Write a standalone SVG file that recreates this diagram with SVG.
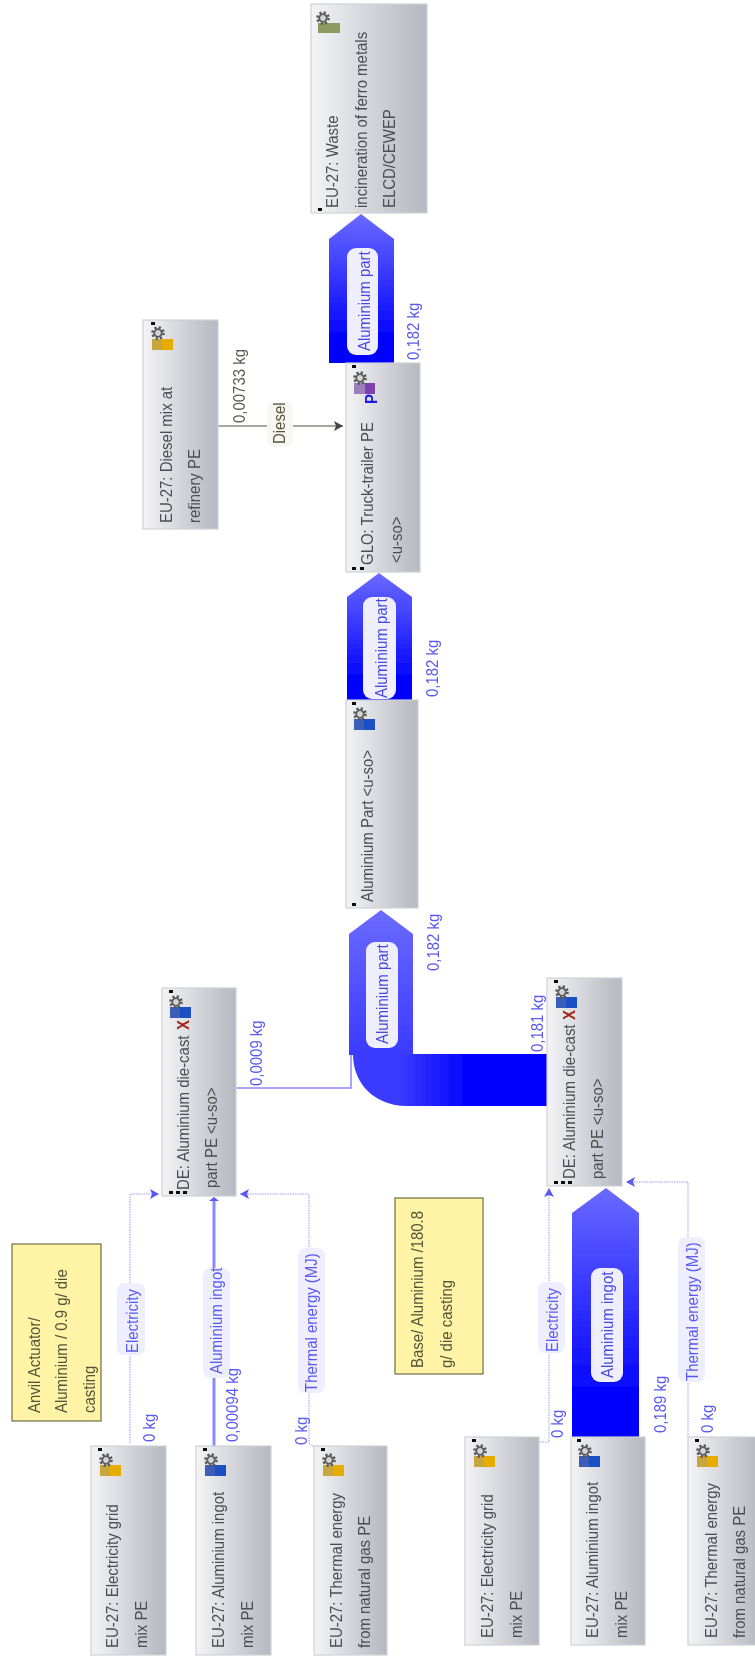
<svg xmlns="http://www.w3.org/2000/svg" width="755" height="1661" viewBox="0 0 755 1661">
<style>
svg>g{filter:url(#soft)}
text{font-family:"Liberation Sans",Arial,sans-serif;font-size:17px}
.t{fill:#4a4f52}
.f{fill:#5a5af0}
.fd{fill:#5c5c50}
.y{fill:#55553a}
.pt{fill:#4a4ae0}
.node{fill:url(#ng);stroke:#cfd1d5;stroke-width:1.2}
.note{fill:#fff3a6;stroke:#6e6e46;stroke-width:1.2}
.pill{fill:#eeeeff}
.d{fill:none;stroke:#9a9aff;stroke-width:1;stroke-dasharray:1.5 1}
.s{fill:none;stroke:#8a8aff;stroke-width:3}
.dot{fill:#111}
.x{fill:#a2261c;font-weight:bold;font-size:17px}
</style>
<defs>
<filter id="soft" x="-2%" y="-2%" width="104%" height="104%"><feGaussianBlur stdDeviation="0.45"/></filter>
<linearGradient id="ng" x1="0" x2="1" y1="0" y2="0"><stop offset="0" stop-color="#f4f4f6"/><stop offset=".85" stop-color="#bdc0c7"/><stop offset="1" stop-color="#b6b9c1"/></linearGradient>
<linearGradient id="fv" x1="0" x2="0" y1="0" y2="1"><stop offset="0" stop-color="#6a6aff"/><stop offset=".85" stop-color="#0000ff"/><stop offset="1" stop-color="#0000ff"/></linearGradient>
<linearGradient id="fv2" x1="0" x2="0" y1="0" y2="1"><stop offset="0" stop-color="#6a6aff"/><stop offset="1" stop-color="#3a3aff"/></linearGradient>
<linearGradient id="fh" gradientUnits="userSpaceOnUse" x1="400" x2="470" y1="0" y2="0"><stop offset="0" stop-color="#3a3aff"/><stop offset="1" stop-color="#0000ff"/></linearGradient>
<marker id="ab" markerUnits="userSpaceOnUse" markerWidth="12" markerHeight="12" refX="9" refY="5" orient="auto"><path d="M0 0L9 5L0 10L2 5Z" fill="#5a5af0"/></marker>
<marker id="ag" markerUnits="userSpaceOnUse" markerWidth="12" markerHeight="12" refX="9" refY="5" orient="auto"><path d="M0 0L9 5L0 10L2 5Z" fill="#444"/></marker>
<g id="gear"><circle r="5.6" fill="none" stroke="#555" stroke-width="2.4" stroke-dasharray="2.2 2.2"/><circle r="3.8" fill="#d4d4d4" stroke="#5a5a5a" stroke-width="1.8"/></g>
<g id="iy"><rect x="0" y="0" width="21" height="11" fill="#e6ad05"/><rect x="0" y="0" width="10" height="11" fill="#c9a53c"/></g>
<g id="ib"><rect x="0" y="0" width="21" height="11" fill="#1f50c4"/><rect x="0" y="0" width="10" height="11" fill="#3a5fb8"/></g>
</defs>

<g id="connectors">
<path class="d" d="M130 1443V1194H159" marker-end="url(#ab)"/>
<path class="s" d="M214 1446V1200"/>
<path d="M209 1201L214 1197L219 1201Z" fill="#5a5af0"/>
<path class="d" d="M314 1446Q309 1446 309 1441V1194H240" marker-end="url(#ab)"/>
<path class="d" d="M540 1442H549V1188" marker-end="url(#ab)"/>
<path class="d" d="M688 1437V1182H626" marker-end="url(#ab)"/>
<path d="M218 426H343" fill="none" stroke="#8a8a86" stroke-width="1.5" marker-end="url(#ag)"/>
<path d="M236 1088H351V1054" fill="none" stroke="#8a8aff" stroke-width="1.5"/>
<path id="flow-truck-waste" fill="url(#fv)" d="M329 363V239L361 214L394 239V363Z"/>
<path id="flow-part-truck" fill="url(#fv)" d="M347 700V597L379 573L412 597V700Z"/>
<path id="flow-base-part-band" fill="url(#fh)" d="M353 1054H547V1106H407C376 1106 353 1085 353 1054Z"/>
<path id="flow-base-part-stem" fill="url(#fv2)" d="M349 1055V934L381 910L413 934V1055Z"/>
<path id="flow-ingot-base" fill="url(#fv)" d="M572 1437V1213L606 1188L639 1213V1437Z"/>

<rect class="pill" x="347" y="248" width="31" height="107" rx="9"/>
<text class="pt" transform="translate(370,351) rotate(-90) scale(.88,1)">Aluminium part</text>
<rect class="pill" x="363" y="597" width="33" height="102" rx="9"/>
<text class="pt" transform="translate(387,698) rotate(-90) scale(.88,1)">Aluminium part</text>
<rect class="pill" x="366" y="942" width="32" height="106" rx="9"/>
<text class="pt" transform="translate(388,1044) rotate(-90) scale(.88,1)">Aluminium part</text>
<rect class="pill" x="591" y="1268" width="32" height="114" rx="9"/>
<text class="pt" transform="translate(613,1378) rotate(-90) scale(.88,1)">Aluminium ingot</text>

<rect x="267" y="402" width="26" height="45" rx="7" fill="#f6f6f2"/>
<text class="y" transform="translate(285,444) rotate(-90) scale(.88,1)">Diesel</text>
<rect class="pill" x="117" y="1283" width="28" height="72" rx="7"/>
<text class="f" transform="translate(138,1353) rotate(-90) scale(.88,1)">Electricity</text>
<rect class="pill" x="203" y="1268" width="27" height="110" rx="7"/>
<text class="f" transform="translate(222,1374) rotate(-90) scale(.88,1)">Aluminium ingot</text>
<rect class="pill" x="298" y="1248" width="27" height="145" rx="7"/>
<text class="f" transform="translate(317,1392) rotate(-90) scale(.88,1)">Thermal energy (MJ)</text>
<rect class="pill" x="538" y="1282" width="27" height="71" rx="7"/>
<text class="f" transform="translate(558,1352) rotate(-90) scale(.88,1)">Electricity</text>
<rect class="pill" x="678" y="1237" width="27" height="145" rx="7"/>
<text class="f" transform="translate(698,1381) rotate(-90) scale(.88,1)">Thermal energy (MJ)</text>

<text class="f" transform="translate(419,360) rotate(-90) scale(.88,1)">0,182 kg</text>
<text class="fd" transform="translate(245,423) rotate(-90) scale(.88,1)">0,00733 kg</text>
<text class="f" transform="translate(438,697) rotate(-90) scale(.88,1)">0,182 kg</text>
<text class="f" transform="translate(439,971) rotate(-90) scale(.88,1)">0,182 kg</text>
<text class="f" transform="translate(262,1086) rotate(-90) scale(.88,1)">0,0009 kg</text>
<text class="f" transform="translate(543,1052) rotate(-90) scale(.88,1)">0,181 kg</text>
<text class="f" transform="translate(155,1442) rotate(-90) scale(.88,1)">0 kg</text>
<text class="f" transform="translate(238,1442) rotate(-90) scale(.88,1)">0,00094 kg</text>
<text class="f" transform="translate(307,1445) rotate(-90) scale(.88,1)">0 kg</text>
<text class="f" transform="translate(563,1438) rotate(-90) scale(.88,1)">0 kg</text>
<text class="f" transform="translate(666,1433) rotate(-90) scale(.88,1)">0,189 kg</text>
<text class="f" transform="translate(713,1433) rotate(-90) scale(.88,1)">0 kg</text>
</g>

<g id="node-waste">
<rect class="node" x="311" y="4" width="116" height="209"/>
<rect x="318" y="23" width="22" height="10" fill="#8c9a5e"/>
<use href="#gear" x="323" y="18"/>
<rect class="dot" x="318" y="208" width="4" height="3"/>
<text class="t" transform="translate(338,208) rotate(-90) scale(.88,1)">EU-27: Waste</text>
<text class="t" transform="translate(367,208) rotate(-90) scale(.88,1)">incineration of ferro metals</text>
<text class="t" transform="translate(395,208) rotate(-90) scale(.88,1)">ELCD/CEWEP</text>
</g>

<g id="node-diesel">
<rect class="node" x="143" y="320" width="75" height="209"/>
<use href="#iy" x="152" y="339"/>
<use href="#gear" x="158" y="333"/>
<rect class="dot" x="151" y="322" width="4" height="3"/>
<text class="t" transform="translate(172,523) rotate(-90) scale(.88,1)">EU-27: Diesel mix at</text>
<text class="t" transform="translate(200,523) rotate(-90) scale(.88,1)">refinery PE</text>
</g>

<g id="node-truck">
<rect class="node" x="346" y="363" width="74" height="209"/>
<rect x="354" y="383" width="21" height="11" fill="#7f3fb0"/>
<rect x="354" y="383" width="11" height="11" fill="#9a80bc"/>
<use href="#gear" x="360" y="378"/>
<text transform="translate(377,404) rotate(-90) scale(.88,1)" fill="#1f1fe0" font-weight="bold">P</text>
<rect class="dot" x="352" y="365" width="4" height="3"/>
<rect class="dot" x="352" y="567" width="4" height="3"/>
<rect class="dot" x="360" y="567" width="4" height="3"/>
<text class="t" transform="translate(373,565) rotate(-90) scale(.88,1)">GLO: Truck-trailer PE</text>
<text class="t" transform="translate(402,563) rotate(-90) scale(.88,1)">&lt;u-so&gt;</text>
</g>

<g id="node-part">
<rect class="node" x="346" y="700" width="72" height="208"/>
<use href="#ib" x="354" y="719"/>
<use href="#gear" x="360" y="714"/>
<rect class="dot" x="352" y="702" width="4" height="3"/>
<rect class="dot" x="352" y="903" width="4" height="3"/>
<text class="t" transform="translate(373,902) rotate(-90) scale(.88,1)">Aluminium Part &lt;u-so&gt;</text>
</g>

<g id="node-anvil-die-cast">
<rect class="node" x="162" y="988" width="74" height="208"/>
<use href="#ib" x="170" y="1007"/>
<use href="#gear" x="176" y="1002"/>
<text class="x" transform="translate(189,1030) rotate(-90) scale(.88,1)">X</text>
<rect class="dot" x="169" y="990" width="4" height="3"/>
<rect class="dot" x="169" y="1191" width="4" height="3"/>
<rect class="dot" x="176" y="1191" width="4" height="3"/>
<rect class="dot" x="183" y="1191" width="4" height="3"/>
<text class="t" transform="translate(189,1190) rotate(-90) scale(.88,1)">DE: Aluminium die-cast</text>
<text class="t" transform="translate(217,1188) rotate(-90) scale(.88,1)">part PE &lt;u-so&gt;</text>
</g>

<g id="node-base-die-cast">
<rect class="node" x="547" y="978" width="75" height="208"/>
<use href="#ib" x="556" y="997"/>
<use href="#gear" x="562" y="992"/>
<text class="x" transform="translate(575,1020) rotate(-90) scale(.88,1)">X</text>
<rect class="dot" x="554" y="980" width="4" height="3"/>
<rect class="dot" x="554" y="1181" width="4" height="3"/>
<rect class="dot" x="561" y="1181" width="4" height="3"/>
<rect class="dot" x="568" y="1181" width="4" height="3"/>
<text class="t" transform="translate(575,1179) rotate(-90) scale(.88,1)">DE: Aluminium die-cast</text>
<text class="t" transform="translate(603,1179) rotate(-90) scale(.88,1)">part PE &lt;u-so&gt;</text>
</g>

<g id="note-anvil">
<rect class="note" x="12" y="1244" width="89" height="177"/>
<text class="y" transform="translate(40,1413) rotate(-90) scale(.88,1)">Anvil Actuator/</text>
<text class="y" transform="translate(67,1413) rotate(-90) scale(.88,1)">Aluminium / 0.9 g/ die</text>
<text class="y" transform="translate(95,1413) rotate(-90) scale(.88,1)">casting</text>
</g>

<g id="note-base">
<rect class="note" x="395" y="1198" width="88" height="176"/>
<text class="y" transform="translate(423,1368) rotate(-90) scale(.88,1)">Base/ Aluminium /180.8</text>
<text class="y" transform="translate(452,1368) rotate(-90) scale(.88,1)">g/ die casting</text>
</g>

<g id="node-electricity-1">
<rect class="node" x="91" y="1446" width="75" height="209"/>
<use href="#iy" x="100" y="1465"/>
<use href="#gear" x="106" y="1460"/>
<rect class="dot" x="98" y="1448" width="4" height="3"/>
<text class="t" transform="translate(118,1648) rotate(-90) scale(.88,1)">EU-27: Electricity grid</text>
<text class="t" transform="translate(147,1648) rotate(-90) scale(.88,1)">mix PE</text>
</g>

<g id="node-ingot-1">
<rect class="node" x="196" y="1446" width="75" height="209"/>
<use href="#ib" x="205" y="1465"/>
<use href="#gear" x="211" y="1460"/>
<rect class="dot" x="203" y="1448" width="4" height="3"/>
<text class="t" transform="translate(224,1648) rotate(-90) scale(.88,1)">EU-27: Aluminium ingot</text>
<text class="t" transform="translate(253,1648) rotate(-90) scale(.88,1)">mix PE</text>
</g>

<g id="node-thermal-1">
<rect class="node" x="314" y="1446" width="73" height="209"/>
<use href="#iy" x="323" y="1465"/>
<use href="#gear" x="329" y="1460"/>
<rect class="dot" x="321" y="1448" width="4" height="3"/>
<text class="t" transform="translate(342,1648) rotate(-90) scale(.88,1)">EU-27: Thermal energy</text>
<text class="t" transform="translate(370,1648) rotate(-90) scale(.88,1)">from natural gas PE</text>
</g>

<g id="node-electricity-2">
<rect class="node" x="465" y="1437" width="74" height="208"/>
<use href="#iy" x="474" y="1456"/>
<use href="#gear" x="480" y="1451"/>
<rect class="dot" x="472" y="1439" width="4" height="3"/>
<text class="t" transform="translate(493,1638) rotate(-90) scale(.88,1)">EU-27: Electricity grid</text>
<text class="t" transform="translate(522,1638) rotate(-90) scale(.88,1)">mix PE</text>
</g>

<g id="node-ingot-2">
<rect class="node" x="571" y="1437" width="74" height="208"/>
<use href="#ib" x="579" y="1456"/>
<use href="#gear" x="585" y="1451"/>
<rect class="dot" x="577" y="1439" width="4" height="3"/>
<text class="t" transform="translate(598,1638) rotate(-90) scale(.88,1)">EU-27: Aluminium ingot</text>
<text class="t" transform="translate(627,1638) rotate(-90) scale(.88,1)">mix PE</text>
</g>

<g id="node-thermal-2">
<rect class="node" x="688" y="1437" width="74" height="208"/>
<use href="#iy" x="697" y="1456"/>
<use href="#gear" x="703" y="1451"/>
<rect class="dot" x="695" y="1439" width="4" height="3"/>
<text class="t" transform="translate(717,1638) rotate(-90) scale(.88,1)">EU-27: Thermal energy</text>
<text class="t" transform="translate(745,1638) rotate(-90) scale(.88,1)">from natural gas PE</text>
</g>
</svg>
